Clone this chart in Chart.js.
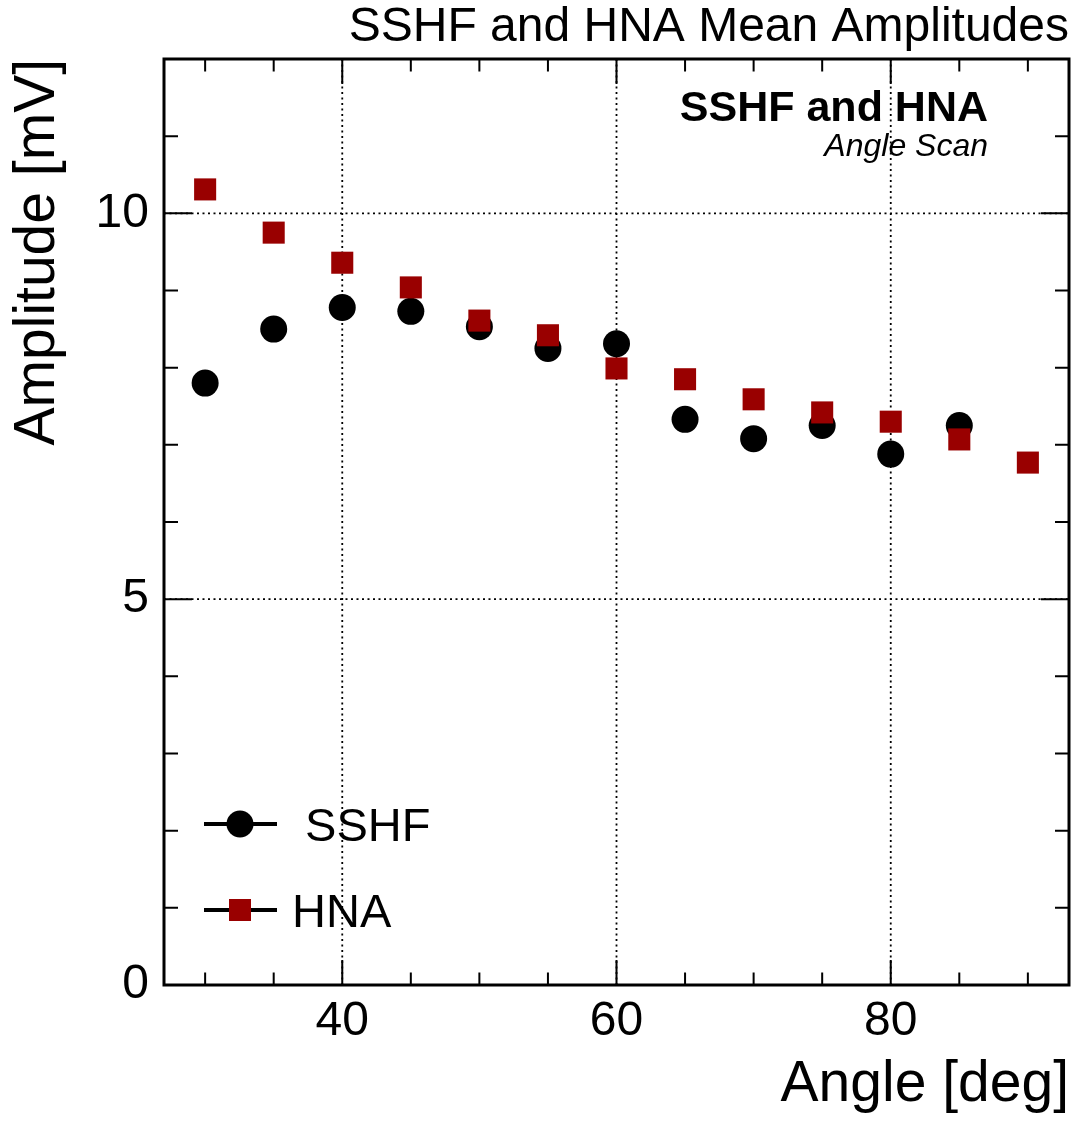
<!DOCTYPE html>
<html>
<head>
<meta charset="utf-8">
<script src="https://cdn.jsdelivr.net/npm/chart.js@4.4.1/dist/chart.umd.min.js"></script>
<style>
  html, body { margin: 0; padding: 0; background: #fff; }
</style>
</head>
<body>
<canvas id="amplitudes" width="1081" height="1121"></canvas>
<script>
// angle scan, mean amplitudes
const angles = [30, 35, 40, 45, 50, 55, 60, 65, 70, 75, 80, 85, 90];
const sshf = [7.80, 8.50, 8.78, 8.73, 8.53, 8.25, 8.31, 7.33, 7.08, 7.25, 6.88, 7.25];
const hna = [10.31, 9.75, 9.36, 9.04, 8.61, 8.42, 7.99, 7.85, 7.59, 7.42, 7.30, 7.07, 6.77];

// axis ticks (labelled ones + small ones)
const xLabels = [40, 60, 80];
const xMinor = [30, 35, 45, 50, 55, 65, 70, 75, 85, 90];
const yLabels = [0, 5, 10];
const yMinor = [1, 2, 3, 4, 6, 7, 8, 9, 11];

const FONT = "'Liberation Sans', Arial, Helvetica, sans-serif";

// ROOT-like frame: dotted grid, box, inward ticks, legend and label
const rootFrame = {
  id: "rootFrame",
  beforeDatasetsDraw(chart) {
    const { ctx, chartArea: a, scales } = chart;
    ctx.save();
    ctx.strokeStyle = "#000";
    ctx.lineWidth = 1.8;
    ctx.setLineDash([2, 3.5]);
    ctx.beginPath();
    xLabels.forEach((v) => {
      const px = scales.x.getPixelForValue(v);
      ctx.moveTo(px, a.top);
      ctx.lineTo(px, a.bottom);
    });
    yLabels.forEach((v) => {
      const py = scales.y.getPixelForValue(v);
      ctx.moveTo(a.left, py);
      ctx.lineTo(a.right, py);
    });
    ctx.stroke();
    ctx.restore();
  },
  afterDatasetsDraw(chart) {
    const { ctx, chartArea: a, scales } = chart;
    ctx.save();
    ctx.strokeStyle = "#000";
    ctx.lineWidth = 2;
    ctx.beginPath();
    const xTick = (v, len) => {
      const px = scales.x.getPixelForValue(v);
      ctx.moveTo(px, a.bottom);
      ctx.lineTo(px, a.bottom - len);
      ctx.moveTo(px, a.top);
      ctx.lineTo(px, a.top + len);
    };
    const yTick = (v, len) => {
      const py = scales.y.getPixelForValue(v);
      ctx.moveTo(a.left, py);
      ctx.lineTo(a.left + len, py);
      ctx.moveTo(a.right, py);
      ctx.lineTo(a.right - len, py);
    };
    xLabels.forEach((v) => xTick(v, 25));
    xMinor.forEach((v) => xTick(v, 12.5));
    yLabels.forEach((v) => yTick(v, 28));
    yMinor.forEach((v) => yTick(v, 14));
    ctx.stroke();

    ctx.lineWidth = 3;
    ctx.strokeRect(a.left, a.top, a.right - a.left, a.bottom - a.top);
    ctx.restore();
  },
  afterDraw(chart) {
    const { ctx } = chart;
    ctx.save();

    // legend (bottom left, inside the frame)
    const rows = [824, 910];
    chart.data.datasets.forEach((ds, i) => {
      const cy = rows[i];
      ctx.strokeStyle = "#000";
      ctx.lineWidth = 4;
      ctx.beginPath();
      ctx.moveTo(204, cy);
      ctx.lineTo(277, cy);
      ctx.stroke();
      ctx.fillStyle = ds.backgroundColor;
      Chart.helpers.drawPoint(ctx, {
        pointStyle: ds.pointStyle,
        radius: ds.pointRadius,
        rotation: 0,
        borderWidth: 0
      }, 240, cy);
      ctx.fillStyle = "#000";
      ctx.font = "47px " + FONT;
      ctx.textAlign = "left";
      ctx.textBaseline = "alphabetic";
      ctx.fillText(ds.label, 292, cy + 17);
    });

    // label top right
    ctx.fillStyle = "#000";
    ctx.textAlign = "right";
    ctx.textBaseline = "alphabetic";
    ctx.font = "bold 43px " + FONT;
    ctx.fillText("SSHF and HNA", 988, 121);
    ctx.font = "italic 32px " + FONT;
    ctx.fillText("Angle Scan", 988, 156);
    ctx.restore();
  }
};

const ctx = document.getElementById("amplitudes").getContext("2d");
const chart_amp = new Chart(ctx, {
  type: "scatter",
  data: {
    datasets: [
      {
        label: " SSHF",
        data: sshf.map((v, i) => ({ x: angles[i], y: v })),
        pointStyle: "circle",
        pointRadius: 13.5,
        pointHoverRadius: 13.5,
        backgroundColor: "#000000",
        borderWidth: 0,
        order: 2
      },
      {
        label: "HNA",
        data: hna.map((v, i) => ({ x: angles[i], y: v })),
        pointStyle: "rect",
        pointRadius: 15.6,
        pointHoverRadius: 15.6,
        backgroundColor: "#990000",
        borderWidth: 0,
        order: 1
      }
    ]
  },
  options: {
    responsive: false,
    animation: false,
    events: [],
    layout: { autoPadding: false, padding: { left: 0, right: 12, top: 0, bottom: 0 } },
    plugins: {
      legend: { display: false },
      tooltip: { enabled: false },
      title: {
        display: true,
        text: "SSHF and HNA Mean Amplitudes",
        align: "end",
        color: "#000",
        font: { family: FONT, size: 48, weight: "normal", lineHeight: 1 },
        padding: { top: 4, bottom: 7 }
      }
    },
    scales: {
      x: {
        type: "linear",
        min: 27,
        max: 93,
        afterBuildTicks: (s) => { s.ticks = xLabels.map((v) => ({ value: v })); },
        afterFit: (s) => {
          s.height = 136;
          s.paddingLeft = 0;
          s.paddingRight = 0;
        },
        grid: { display: false },
        border: { display: false },
        ticks: {
          color: "#000",
          font: { family: FONT, size: 48 },
          padding: 0,
          maxRotation: 0,
          autoSkip: false
        },
        title: {
          display: true,
          text: "Angle [deg]",
          align: "end",
          color: "#000",
          font: { family: FONT, size: 57 },
          padding: { top: 0, bottom: 2 }
        }
      },
      y: {
        type: "linear",
        min: 0,
        max: 12,
        afterBuildTicks: (s) => { s.ticks = yLabels.map((v) => ({ value: v })); },
        afterFit: (s) => {
          s.width = 164;
          s.paddingTop = 0;
          s.paddingBottom = 0;
        },
        grid: { display: false },
        border: { display: false },
        ticks: {
          color: "#000",
          font: { family: FONT, size: 48 },
          padding: 7,
          autoSkip: false
        },
        title: {
          display: true,
          text: "Amplitude [mV]",
          align: "end",
          color: "#000",
          font: { family: FONT, size: 57 },
          padding: { top: 4, bottom: 0 }
        }
      }
    }
  },
  plugins: [rootFrame]
});
</script>
</body>
</html>
